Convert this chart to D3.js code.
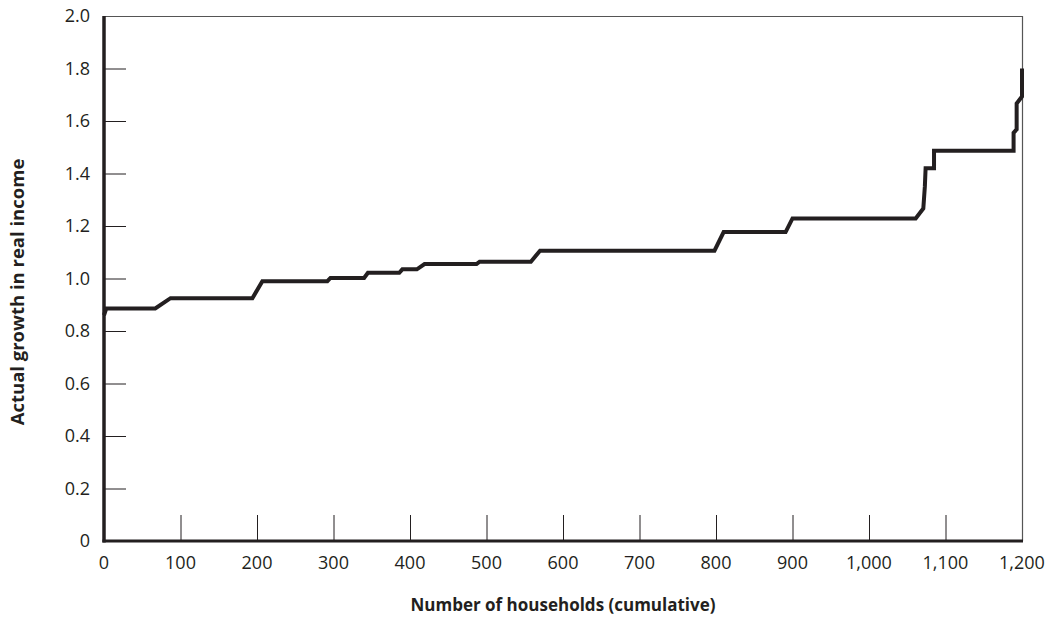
<!DOCTYPE html>
<html>
<head>
<meta charset="utf-8">
<script src="https://cdn.jsdelivr.net/npm/d3@7/dist/d3.min.js"></script>
<style>
  html, body { margin: 0; padding: 0; background: #fff; }
  svg { display: block; font-family: "Open Sans", "Noto Sans", sans-serif; }
</style>
</head>
<body>
<svg id="chart" width="1053" height="618"></svg>
<script>
// Data
const households = [0, 3, 67, 87, 194, 207, 292, 296, 340, 345, 386, 390, 409, 419, 487, 491, 558, 570, 798, 810, 891, 900, 1061, 1071, 1073, 1074, 1085, 1085, 1189, 1189, 1193, 1193, 1200, 1200];
const growth = [0.86, 0.886, 0.886, 0.925, 0.925, 0.99, 0.99, 1.002, 1.002, 1.022, 1.022, 1.035, 1.035, 1.055, 1.055, 1.064, 1.064, 1.106, 1.106, 1.177, 1.177, 1.229, 1.229, 1.267, 1.35, 1.42, 1.42, 1.487, 1.487, 1.555, 1.568, 1.667, 1.693, 1.80];
const xTicks = [0, 100, 200, 300, 400, 500, 600, 700, 800, 900, 1000, 1100, 1200];
const yTicks = [0, 0.2, 0.4, 0.6, 0.8, 1.0, 1.2, 1.4, 1.6, 1.8, 2.0];
const xTitle = "Number of households (cumulative)";
const yTitle = "Actual growth in real income";

(function () {
const svg = d3.select("#chart");
const mLeft = 104, mRight = 1022, mTop = 16, mBottom = 541;

const x = d3.scaleLinear().domain([0, 1200]).range([mLeft, mRight]);
const y = d3.scaleLinear().domain([0, 2]).range([mBottom, mTop]);

const ink = "#231f20";

// top and right frame (thin)
svg.append("line").attr("x1", mLeft).attr("x2", mRight).attr("y1", mTop + 0.5).attr("y2", mTop + 0.5)
  .attr("stroke", "#555").attr("stroke-width", 1);
svg.append("line").attr("x1", mRight + 0.5).attr("x2", mRight + 0.5).attr("y1", mTop).attr("y2", mBottom)
  .attr("stroke", "#555").attr("stroke-width", 1.2);

// y ticks (inward)
const yAxis = d3.axisRight(y).tickValues(yTicks.filter(d => d > 0 && d < 2)).tickSize(22).tickFormat("");
const gy = svg.append("g").attr("transform", `translate(${mLeft},0)`).call(yAxis);
gy.select(".domain").remove();
gy.selectAll(".tick line").attr("stroke", ink).attr("stroke-width", 1);

// y labels
svg.append("g").selectAll("text").data(yTicks).join("text")
  .attr("x", 90).attr("y", d => y(d)).attr("dy", "0.36em")
  .attr("text-anchor", "end").attr("font-size", 18).attr("fill", ink)
  .text(d => d === 0 ? "0" : d3.format(".1f")(d));

// x ticks (inward, upward)
const xAxis = d3.axisTop(x).tickValues(xTicks.filter(d => d > 0 && d < 1200)).tickSize(26).tickFormat("");
const gx = svg.append("g").attr("transform", `translate(0,${mBottom})`).call(xAxis);
gx.select(".domain").remove();
gx.selectAll(".tick line").attr("stroke", ink).attr("stroke-width", 1);

// x labels
svg.append("g").selectAll("text").data(xTicks).join("text")
  .attr("x", d => x(d)).attr("y", 569)
  .attr("text-anchor", "middle").attr("font-size", 18).attr("fill", ink)
  .text(d => d3.format(",")(d));

// thick left and bottom axes
svg.append("line").attr("x1", mLeft).attr("x2", mLeft).attr("y1", mTop).attr("y2", mBottom + 1.5)
  .attr("stroke", ink).attr("stroke-width", 3.5);
svg.append("line").attr("x1", mLeft - 1.5).attr("x2", mRight + 1).attr("y1", mBottom).attr("y2", mBottom)
  .attr("stroke", ink).attr("stroke-width", 3);

// data line
const pts = households.map((h, i) => [h, growth[i]]);
svg.append("path").datum(pts)
  .attr("d", d3.line().x(d => x(d[0])).y(d => y(d[1])))
  .attr("fill", "none").attr("stroke", ink).attr("stroke-width", 4)
  .attr("stroke-linejoin", "miter").attr("stroke-linecap", "butt");

// axis titles
svg.append("text").attr("x", 563).attr("y", 611).attr("text-anchor", "middle")
  .attr("font-size", 17).attr("font-weight", "bold").attr("fill", ink).text(xTitle);
svg.append("text").attr("transform", "translate(24,292) rotate(-90)").attr("text-anchor", "middle")
  .attr("font-size", 18.5).attr("font-weight", "bold").attr("fill", ink).text(yTitle);
})();
</script>
</body>
</html>
